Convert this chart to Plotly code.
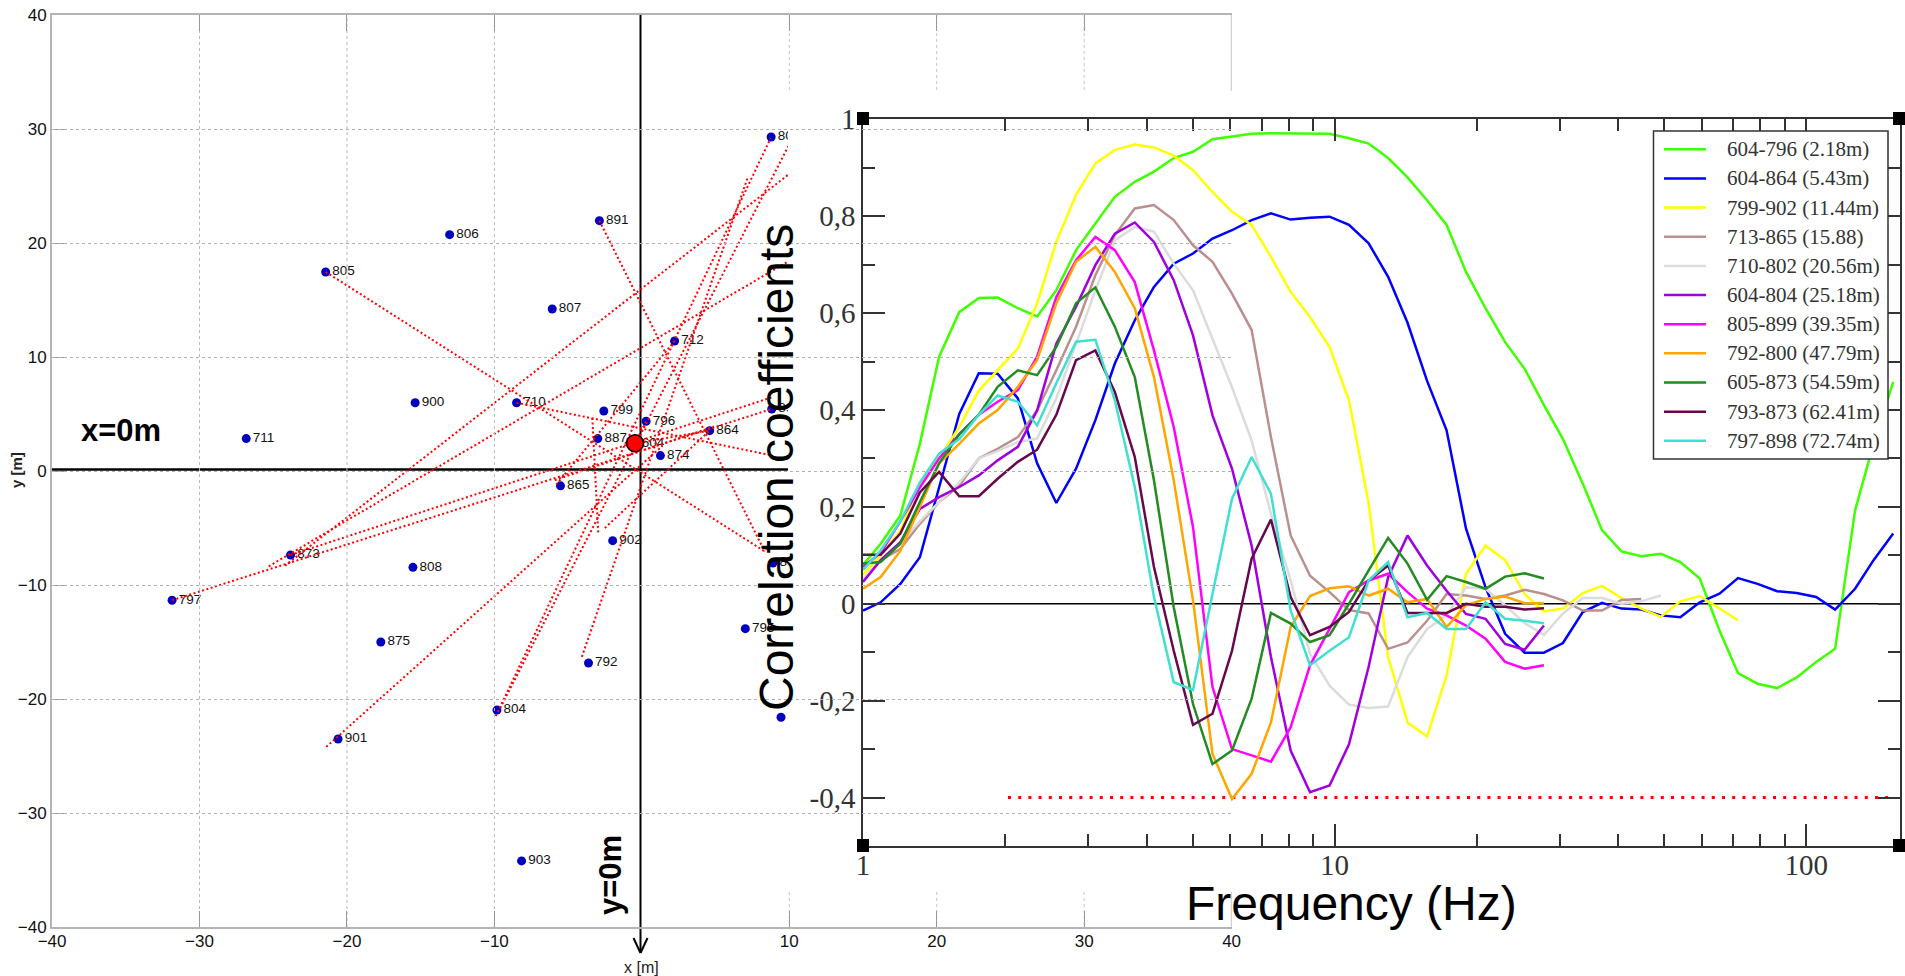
import plotly.graph_objects as go

W, H = 1905, 976
NARROW = "Liberation Sans Narrow, Liberation Sans, sans-serif"
SERIF = "Liberation Serif, serif"
SANS = "Liberation Sans, sans-serif"

# ---------- left panel: station map ----------
station_names = ["711", "805", "806", "807", "891", "900", "710", "799", "796", "887", "874", "864", "712", "802",
                 "898", "865", "902", "873", "808", "797", "875", "792", "795", "899", "804", "901", "903", "800",
                 "604"]
station_x = [-26.83, -21.44, -13.03, -6.07, -2.87, -15.37, -8.49, -2.57, 0.30, -2.98, 1.27, 4.61, 2.23, 8.78,
             8.82, -5.51, -1.97, -23.82, -15.52, -31.86, -17.7, -3.61, 7.03, 8.9, -9.82, -20.6, -8.15, 9.45, -0.45]
station_y = [2.84, 17.46, 20.73, 14.21, 21.96, 5.99, 5.99, 5.26, 4.36, 2.84, 1.35, 3.54, 11.4, 29.3,
             5.44, -1.3, -6.11, -7.37, -8.45, -11.34, -15.0, -16.84, -13.83, -8.07, -20.97, -23.51, -34.2, -21.6,
             2.43]
centre_x = [-0.45]
centre_y = [2.43]

link_x = [[-21.44, 8.34], [-2.87, 8.34], [-8.49, 8.7], [-31.86, 8.82], [-23.82, 8.8],
          [-24.2, 9.95], [-25.3, 9.95], [-21.4, 1.4], [-5.8, 2.23], [-3.35, -2.94],
          [-4.06, 7.22], [-9.9, 8.75], [-9.6, 9.95], [-2.5, 4.61], [-5.9, 4.9],
          [-0.45, 0.30], [-0.45, 4.61]]
link_y = [[17.46, -7.05], [21.96, -7.05], [5.99, 1.4], [-11.34, 5.44], [-7.37, 6.45],
          [-8.3, 26.0], [-8.36, 18.4], [-24.2, 2.2], [-1.2, 11.4], [4.65, -5.6],
          [-16.3, 25.85], [-21.5, 29.2], [-20.8, 28.5], [-5.0, 3.54], [-0.8, 3.9],
          [2.43, 4.36], [2.43, 3.54]]

map_ticks_x = [-40, -30, -20, -10, 10, 20, 30, 40]
map_ticks_y = [-40, -30, -20, -10, 0, 10, 20, 30, 40]

# ---------- right panel: correlation curves ----------
freq = [1.0, 1.09, 1.2, 1.32, 1.45, 1.6, 1.76, 1.93, 2.13, 2.34, 2.57, 2.83, 3.11, 3.42, 3.77, 4.14, 4.56, 5.01,
        5.51, 6.06, 6.67, 7.33, 8.07, 8.87, 9.76, 10.73, 11.81, 12.99, 14.28, 15.71, 17.28, 19.0, 20.9, 23.0,
        25.3, 27.8, 30.5, 33.6, 36.9, 40.6, 44.7, 49.2, 54.1, 59.5, 65.5, 71.7, 78.9, 86.8, 95.5, 105.0, 115.2,
        127.0, 139.0, 153.0]

pair_labels = ["604-796 (2.18m)", "604-864 (5.43m)", "799-902 (11.44m)", "713-865 (15.88)", "710-802 (20.56m)",
               "604-804 (25.18m)", "805-899 (39.35m)", "792-800 (47.79m)", "605-873 (54.59m)", "793-873 (62.41m)",
               "797-898 (72.74m)"]
pair_colors = ["#3fff00", "#0000ff", "#ffff00", "#bc8f8f", "#dcdcdc", "#a000e0", "#ff00ff", "#ffa500", "#228b22",
               "#67074e", "#40e0d0"]

c_604_796 = [.08, .124, .182, .33, .51, .602, .631, .632, .61, .593, .647, .73, .785, .84, .871, .892, .92, .933,
             .959, .964, .97, .971, .971, .971, .97, .961, .95, .92, .88, .833, .782, .685, .61, .54, .485, .41,
             .34, .248, .152, .108, .098, .103, .086, .052, -.055, -.143, -.165, -.174, -.152, -.12, -.093, .193,
             .33, .458]
c_604_864 = [-.014, .003, .041, .096, .24, .392, .476, .475, .424, .29, .208, .279, .379, .496, .585, .654, .702,
             .723, .754, .771, .792, .806, .793, .797, .799, .782, .744, .675, .58, .46, .358, .155, .034, -.062,
             -.101, -.101, -.081, -.017, .002, -.01, -.012, -.024, -.028, .003, .021, .053, .041, .026, .022,
             .014, -.012, .031, .09, .145]
c_799_902 = [.06, .1, .15, .25, .3, .365, .44, .482, .527, .62, .747, .844, .909, .937, .948, .942, .925, .895,
             .85, .809, .782, .716, .644, .592, .53, .42, .207, -.11, -.245, -.274, -.148, .062, .12, .09, .02,
             -.016, -.01, .022, .037, .012, -.01, -.027, .005, .016, -.01, -.034]
c_713_865 = [.05, .09, .113, .165, .21, .244, .30, .32, .344, .399, .482, .572, .678, .761, .816, .823, .792, .74,
             .706, .64, .565, .344, .141, .058, .024, -.013, -.02, -.093, -.08, -.035, .02, .017, .01, .017, .029,
             .02, .007, -.014, -.014, .008, .01]
c_710_802 = [.05, .09, .125, .17, .21, .25, .30, .315, .334, .341, .424, .537, .647, .75, .778, .768, .702, .647,
             .547, .447, .337, .186, .048, -.103, -.169, -.208, -.215, -.212, -.11, -.052, -.024, .034, .031,
             -.003, -.04, -.064, -.02, .012, .012, 0, .005, .017]
c_604_804 = [.045, .09, .127, .196, .22, .241, .265, .296, .324, .399, .537, .613, .699, .764, .787, .747, .668,
             .554, .389, .279, .12, -.11, -.303, -.389, -.375, -.29, -.13, .055, .141, .079, .027, -.021, -.031,
             -.083, -.095, -.045]
c_805_899 = [.076, .105, .17, .24, .30, .35, .39, .417, .441, .51, .633, .709, .757, .73, .664, .523, .365, .158,
             -.172, -.3, -.313, -.326, -.255, -.127, -.052, .024, .048, .062, .024, -.01, -.024, -.045, -.072,
             -.12, -.134, -.127]
c_792_800 = [.031, .055, .109, .2, .29, .33, .372, .4, .448, .503, .62, .706, .737, .685, .61, .468, .255, .007,
             -.31, -.403, -.351, -.245, -.048, .016, .032, .036, .017, .031, .003, .01, -.048, -.003, .01, .015,
             .001, .001]
c_605_873 = [.083, .086, .124, .21, .29, .35, .39, .448, .482, .472, .53, .62, .653, .572, .468, .255, -.007, -.207,
             -.331, -.303, -.196, -.019, -.041, -.079, -.065, 0, .069, .136, .083, .008, .057, .045, .031, .056,
             .063, .052]
c_793_873 = [.101, .101, .145, .23, .272, .222, .222, .258, .293, .318, .39, .503, .523, .437, .303, .076, -.097,
             -.25, -.227, -.097, .093, .174, .014, -.065, -.048, -.017, .048, .079, -.019, -.019, -.019, 0, -.006,
             -.006, -.012, -.009]
c_797_898 = [.07, .11, .17, .25, .31, .34, .39, .43, .417, .368, .455, .541, .545, .42, .241, .014, -.162, -.178,
             .02, .217, .303, .227, -.014, -.127, -.097, -.069, .048, .086, -.028, -.019, -.052, -.052, .003,
             -.031, -.035, -.04]
pair_values = [c_604_796, c_604_864, c_799_902, c_713_865, c_710_802, c_604_804, c_805_899, c_792_800, c_605_873,
               c_793_873, c_797_898]

zero_x = [1, 159]
zero_y = [0, 0]
limit_x = [2.03, 153]
limit_y = [-0.4, -0.4]

freq_ticks = [1, 10, 100]
freq_minor = [2, 3, 4, 5, 6, 7, 8, 9, 20, 30, 40, 50, 60, 70, 80, 90]
corr_ticks = [1, 0.8, 0.6, 0.4, 0.2, 0, -0.2, -0.4, -0.5]
corr_labels = ["1", "0,8", "0,6", "0,4", "0,2", "0", "-0,2", "-0,4", ""]
corr_minor = [0.9, 0.7, 0.5, 0.3, 0.1, -0.1, -0.3]


def px(v):
    return v / W


def py(v):
    return 1 - v / H


fig = go.Figure()

fig.add_trace(go.Scatter(x=station_x, y=station_y, mode="markers+text", text=station_names,
                         textposition="middle right", textfont=dict(family=NARROW, size=13.5, color="#111"),
                         marker=dict(color="#0000c0", size=9), xaxis="x", yaxis="y", name="stations"))
for lx, ly in zip(link_x, link_y):
    fig.add_trace(go.Scatter(x=lx, y=ly, mode="lines", line=dict(color="#ff0000", width=2, dash="2px,2.5px"),
                             xaxis="x", yaxis="y", name="link"))
fig.add_trace(go.Scatter(x=centre_x, y=centre_y, mode="markers",
                         marker=dict(color="#ff0000", size=17, line=dict(color="black", width=1.5)),
                         xaxis="x", yaxis="y", name="604"))
# carrier for the full-width frame axis
fig.add_trace(go.Scatter(x=map_ticks_x, y=[None] * len(map_ticks_x), mode="lines", xaxis="x3", yaxis="y",
                         name="frame", hoverinfo="skip"))

fig.add_trace(go.Scatter(x=zero_x, y=zero_y, mode="lines", line=dict(color="black", width=1.5),
                         xaxis="x2", yaxis="y2", name="zero"))
fig.add_trace(go.Scatter(x=limit_x, y=limit_y, mode="lines", line=dict(color="#ff0000", width=3, dash="3px,7.2px"),
                         xaxis="x2", yaxis="y2", name="limit"))
for lab, col, vals in zip(pair_labels, pair_colors, pair_values):
    fig.add_trace(go.Scatter(x=freq[:len(vals)], y=vals, mode="lines", line=dict(color=col, width=2.5),
                             xaxis="x2", yaxis="y2", name=lab))

shapes = []
ann = []


def ink(x0, y0, x1, y1, width=2):
    shapes.append(dict(type="line", xref="paper", yref="paper", x0=px(x0), x1=px(x1), y0=py(y0), y1=py(y1),
                       line=dict(color="black", width=width), layer="below"))


# black reference lines of the map, with the open arrow head below the plot
ink(640.5, 15, 640.5, 952)
ink(52, 469.5, 788, 469.5, 2.5)
ink(633.5, 938, 640.5, 953)
ink(647.5, 938, 640.5, 953)

# vertical grid pieces of the map, only where the overlaid panel does not hide them
for v in [-30, -20, -10]:
    shapes.append(dict(type="line", xref="x3", yref="y", x0=v, x1=v, y0=-40, y1=40,
                       line=dict(color="#b8b8b8", width=1, dash="3px,3px"), layer="below"))
for v in [10, 20, 30]:
    shapes.append(dict(type="line", xref="x3", yref="paper", x0=v, x1=v, y0=py(15), y1=py(91),
                       line=dict(color="#c4c4c4", width=1, dash="3px,3px"), layer="below"))
    shapes.append(dict(type="line", xref="x3", yref="paper", x0=v, x1=v, y0=py(892), y1=py(927),
                       line=dict(color="#c4c4c4", width=1, dash="3px,3px"), layer="below"))
shapes.append(dict(type="line", xref="x3", yref="paper", x0=40, x1=40, y0=py(15), y1=py(91),
                   line=dict(color="#b4b4b4", width=1.5), layer="below"))
shapes.append(dict(type="line", xref="x3", yref="paper", x0=40, x1=40, y0=py(892), y1=py(927),
                   line=dict(color="#b4b4b4", width=1.5), layer="below"))

# corner handles of the correlation plot
for cx, cy in [(863, 119), (1899, 119), (863, 846), (1899, 846)]:
    shapes.append(dict(type="rect", xref="paper", yref="paper", x0=px(cx - 6), x1=px(cx + 6), y0=py(cy - 7),
                       y1=py(cy + 6), fillcolor="black", line=dict(width=0), layer="above"))

# key of the correlation plot
shapes.append(dict(type="rect", xref="paper", yref="paper", x0=px(1653.5), x1=px(1888), y0=py(131), y1=py(459),
                   fillcolor="white", line=dict(color="#333333", width=1.5), layer="above"))
for i, (lab, col) in enumerate(zip(pair_labels, pair_colors)):
    row = 149.3 + 29.15 * i
    shapes.append(dict(type="line", xref="paper", yref="paper", x0=px(1664), x1=px(1706), y0=py(row), y1=py(row),
                       line=dict(color=col, width=2.5), layer="above"))
    ann.append(dict(xref="paper", yref="paper", x=px(1725), y=py(row), text=lab, showarrow=False, xanchor="left",
                    yanchor="middle", font=dict(family=SERIF, size=21, color="#333333")))

# large axis titles and map captions
ann.append(dict(xref="paper", yref="paper", x=px(776), y=py(468), text="Correlation coefficients", textangle=-90,
                showarrow=False, font=dict(family=SANS, size=48, color="black"), xanchor="center", yanchor="middle"))
ann.append(dict(xref="paper", yref="paper", x=px(1351), y=py(903), text="Frequency (Hz)", showarrow=False,
                font=dict(family=SANS, size=48, color="black"), xanchor="center", yanchor="middle"))
ann.append(dict(xref="paper", yref="paper", x=px(121), y=py(430), text="<b>x=0m</b>", showarrow=False,
                font=dict(family=SANS, size=31, color="black"), xanchor="center", yanchor="middle"))
ann.append(dict(xref="paper", yref="paper", x=px(610), y=py(875), text="<b>y=0m</b>", textangle=-90, showarrow=False,
                font=dict(family=SANS, size=31, color="black"), xanchor="center", yanchor="middle"))
ann.append(dict(xref="paper", yref="paper", x=px(641), y=py(967), text="x [m]", showarrow=False,
                font=dict(family=NARROW, size=16, color="#222"), xanchor="center", yanchor="middle"))
ann.append(dict(xref="paper", yref="paper", x=px(16), y=py(470), text="<b>y [m]</b>", textangle=-90, showarrow=False,
                font=dict(family=NARROW, size=15, color="#222"), xanchor="center", yanchor="middle"))

fig.update_layout(
    width=W, height=H, margin=dict(l=0, r=0, t=0, b=0, autoexpand=False), autosize=False, showlegend=False,
    paper_bgcolor="white", plot_bgcolor="rgba(0,0,0,0)", shapes=shapes, annotations=ann,
    xaxis=dict(domain=[px(52.1), px(788)], range=[-40, 9.925], anchor="y", showgrid=False, zeroline=False,
               showticklabels=False, ticks="", showline=False),
    xaxis3=dict(domain=[px(52.1), px(1231.6)], range=[-40, 40], anchor="y", side="bottom",
                showgrid=False, zeroline=False, tickmode="array", tickvals=map_ticks_x, ticks="inside", ticklen=16,
                tickcolor="#999999", showline=True, linecolor="#b4b4b4", linewidth=2, mirror="ticks",
                ticklabelstandoff=-2, tickfont=dict(family=NARROW, size=17, color="#111")),
    yaxis=dict(domain=[py(927), py(15)], range=[-40, 40], anchor="x", zeroline=False, tickmode="array",
               tickvals=map_ticks_y, ticks="inside", ticklen=13, tickcolor="#999999", showgrid=True,
               gridcolor="#b0b0b0", griddash="dot", gridwidth=1, showline=True, linecolor="#b4b4b4", linewidth=2,
               tickfont=dict(family=NARROW, size=17, color="#111")),
    xaxis2=dict(domain=[px(863), px(1899.5)], type="log", range=[0, 2.198], anchor="y2", showgrid=False,
                zeroline=False, tickmode="array", tickvals=freq_ticks, ticktext=["1", "10", "100"], ticks="inside",
                ticklen=22, tickwidth=1.5, tickcolor="#333333", showline=True, linecolor="#333333", linewidth=1.5,
                mirror="allticks", ticklabelstandoff=-8, tickfont=dict(family=SERIF, size=29, color="#333333"),
                minor=dict(tickmode="array", tickvals=freq_minor, ticks="inside", ticklen=12, tickwidth=1.5,
                           tickcolor="#333333", showgrid=False)),
    yaxis2=dict(domain=[py(846), py(119.3)], range=[-0.5, 1], anchor="x2", showgrid=False, zeroline=False,
                tickmode="array", tickvals=corr_ticks, ticktext=corr_labels, ticks="inside", ticklen=22, tickwidth=1.5,
                tickcolor="#333333", showline=True, linecolor="#333333", linewidth=1.5, mirror="allticks",
                tickfont=dict(family=SERIF, size=29, color="#333333"),
                minor=dict(tickmode="array", tickvals=corr_minor, ticks="inside", ticklen=12, tickwidth=1.5,
                           tickcolor="#333333", showgrid=False)),
)

fig.write_html("out.html", config=dict(displayModeBar=False),
               post_script="document.body.style.margin='0';document.body.style.overflow='hidden';")
